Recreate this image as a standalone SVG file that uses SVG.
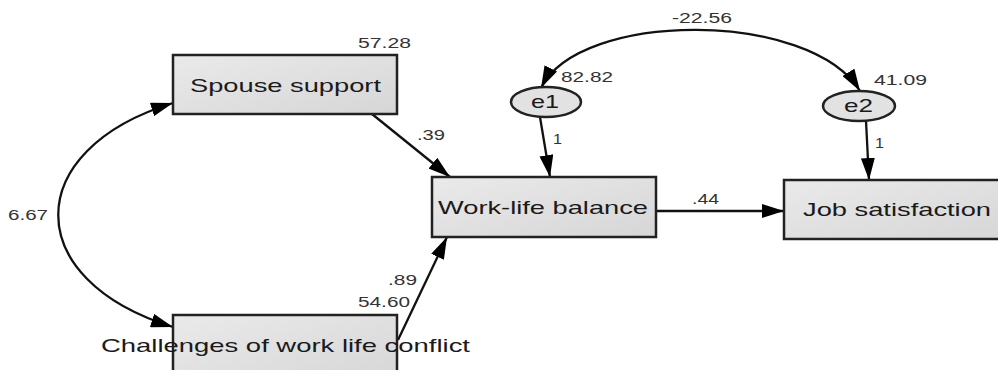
<svg xmlns="http://www.w3.org/2000/svg" width="998" height="370" viewBox="0 0 998 370">
<style>
.box{stroke:#222;stroke-width:2.5;fill:url(#g)}
.ell{stroke:#222;stroke-width:2.5;fill:#e2e2e2}
.bt{font-family:"Liberation Sans",Arial,sans-serif;font-size:19px;fill:#1a1a1a}
.lb{font-family:"Liberation Sans",Arial,sans-serif;font-size:14px;fill:#333}
.c{fill:none;stroke:#111;stroke-width:2.3}
</style>
<defs>
<linearGradient id="g" x1="0" y1="0" x2="1" y2="1">
<stop offset="0" stop-color="#eaeaea"/>
<stop offset="1" stop-color="#d6d6d6"/>
</linearGradient>
<marker id="a" viewBox="0 0 22 14" refX="22" refY="7" markerWidth="22" markerHeight="14" markerUnits="userSpaceOnUse" orient="auto-start-reverse">
<path d="M0,0 L22,7 L0,14 Z" fill="#000"/>
</marker>
</defs>
<g id="connectors">
<path class="c" d="M173,103 C20,150 20,280 173,327" marker-start="url(#a)" marker-end="url(#a)"/>
<path class="c" d="M541,88 C580,10 810,10 860,91" marker-start="url(#a)" marker-end="url(#a)"/>
<line class="c" x1="372" y1="114" x2="450" y2="177" marker-end="url(#a)"/>
<line class="c" x1="398" y1="340" x2="447" y2="237" marker-end="url(#a)"/>
<line class="c" x1="540" y1="117" x2="550" y2="177" marker-end="url(#a)"/>
<line class="c" x1="866" y1="121" x2="869" y2="180" marker-end="url(#a)"/>
<line class="c" x1="656" y1="211" x2="784" y2="211" stroke-width="1.7" marker-end="url(#a)"/>
<text class="lb" x="417" y="140" textLength="28" lengthAdjust="spacingAndGlyphs">.39</text>
<text class="lb" x="8" y="220" textLength="40" lengthAdjust="spacingAndGlyphs">6.67</text>
<text class="lb" x="388" y="285" textLength="29" lengthAdjust="spacingAndGlyphs">.89</text>
<text class="lb" x="672" y="23" textLength="60" lengthAdjust="spacingAndGlyphs">-22.56</text>
<text class="lb" x="692" y="204" textLength="27" lengthAdjust="spacingAndGlyphs">.44</text>
<text class="lb" x="553" y="144" textLength="9" lengthAdjust="spacingAndGlyphs">1</text>
<text class="lb" x="875" y="148" textLength="9" lengthAdjust="spacingAndGlyphs">1</text>
</g>
<g id="spouse">
<rect class="box" x="173" y="55" width="224" height="59"/>
<text class="bt" x="190" y="92" textLength="191" lengthAdjust="spacingAndGlyphs">Spouse support</text>
<text class="lb" x="358" y="48" textLength="53" lengthAdjust="spacingAndGlyphs">57.28</text>
</g>
<g id="challenges">
<rect class="box" x="173" y="315" width="224" height="70"/>
<text class="bt" x="101" y="352" textLength="369" lengthAdjust="spacingAndGlyphs">Challenges of work life conflict</text>
<text class="lb" x="358" y="307" textLength="52" lengthAdjust="spacingAndGlyphs">54.60</text>
</g>
<g id="wlb">
<rect class="box" x="432" y="177" width="224" height="60"/>
<text class="bt" x="438" y="214" textLength="210" lengthAdjust="spacingAndGlyphs">Work-life balance</text>
</g>
<g id="js">
<rect class="box" x="784" y="180" width="225" height="59"/>
<text class="bt" x="803" y="216" textLength="188" lengthAdjust="spacingAndGlyphs">Job satisfaction</text>
</g>
<g id="e1">
<ellipse class="ell" cx="546" cy="102" rx="35" ry="15"/>
<text class="bt" x="531" y="108" textLength="28" lengthAdjust="spacingAndGlyphs" font-size="17">e1</text>
<text class="lb" x="561" y="82" textLength="52" lengthAdjust="spacingAndGlyphs">82.82</text>
</g>
<g id="e2">
<ellipse class="ell" cx="859" cy="106" rx="36" ry="15"/>
<text class="bt" x="844" y="112" textLength="29" lengthAdjust="spacingAndGlyphs" font-size="17">e2</text>
<text class="lb" x="874" y="85" textLength="53" lengthAdjust="spacingAndGlyphs">41.09</text>
</g>
</svg>
